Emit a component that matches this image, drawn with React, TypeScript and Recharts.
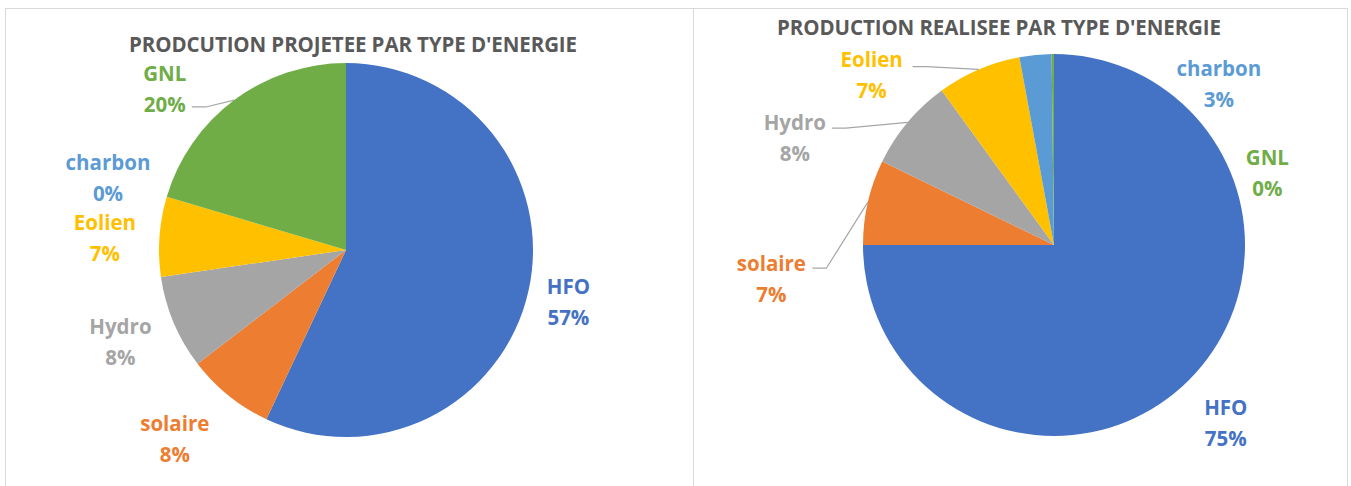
import React from 'react';
import { PieChart, Pie, Cell } from 'recharts';

// energy types, clockwise from 12 o'clock
const TYPES = ['HFO', 'solaire', 'Hydro', 'Eolien', 'charbon', 'GNL'];
const COLORS = ['#4472C4', '#ED7D31', '#A5A5A5', '#FFC000', '#5B9BD5', '#70AD47'];

// share in %
const PROJETEE = [57, 7.6, 8.1, 6.9, 0, 20.4];
const REALISEE = [75, 7.2, 7.8, 7.1, 2.7, 0.2];

const TITLE_PROJETEE = "PRODCUTION PROJETEE PAR TYPE D'ENERGIE";
const TITLE_REALISEE = "PRODUCTION REALISEE PAR TYPE D'ENERGIE";

// label placement: f = radius factor of outerRadius, a = angle (deg, ccw from east)
type LabelPos = { f: number; a: number; line?: [number, number] };
const LABELS_PROJETEE: LabelPos[] = [
    { f: 1.22, a: -12.9 },
    { f: 1.36, a: -132.3 },
    { f: 1.30, a: -158.1 },
    { f: 1.291, a: 176.9 },
    { f: 1.331, a: 163.0 },
    { f: 1.30, a: 138.2, line: [27, 19] },
];
const LABELS_REALISEE: LabelPos[] = [
    { f: 1.29, a: -45.8 },
    { f: 1.49, a: -173.3, line: [41, -10] },
    { f: 1.47, a: 157.4, line: [37, -9] },
    { f: 1.31, a: 136.8, line: [41, -7] },
    { f: 1.21, a: 44.5 },
    { f: 1.18, a: 18.8 },
];

const RAD = Math.PI / 180;
const FONT = '"Open Sans", sans-serif';
const MARGIN = { top: 0, right: 0, bottom: 0, left: 0 };

const makeLabel = (layout: LabelPos[]) => (props: any) => {
    const { cx, cy, midAngle, outerRadius, index, value } = props;
    const pos = layout[index];
    const x = cx + outerRadius * pos.f * Math.cos(pos.a * RAD);
    const y = cy - outerRadius * pos.f * Math.sin(pos.a * RAD);
    const color = COLORS[index];
    let leader = null;
    if (pos.line) {
        const sx = x + pos.line[0];
        const sy = y + pos.line[1];
        const ex = cx + outerRadius * Math.cos(-midAngle * RAD);
        const ey = cy + outerRadius * Math.sin(-midAngle * RAD);
        leader = (
            <polyline
                points={`${sx},${sy} ${sx + 14},${sy} ${ex},${ey}`}
                fill="none"
                stroke="#A6A6A6"
                strokeWidth={1.2}
            />
        );
    }
    return (
        <g key={`lbl-${index}`}>
            {leader}
            <text x={x} y={y - 15} textAnchor="middle" dominantBaseline="central"
                fill={color} fontFamily={FONT} fontWeight={700} fontSize={20.5}>
                {TYPES[index]}
            </text>
            <text x={x} y={y + 16} textAnchor="middle" dominantBaseline="central"
                fill={color} fontFamily={FONT} fontWeight={700} fontSize={20.5}>
                {`${Math.round(value)}%`}
            </text>
        </g>
    );
};

type PanelProps = {
    left: number;
    width: number;
    title: string;
    titleX: number;
    titleY: number;
    values: number[];
    labels: LabelPos[];
    cx: number;
    cy: number;
    r: number;
};

const EnergyPie: React.FC<PanelProps> = ({ left, width, title, titleX, titleY, values, labels, cx, cy, r }) => {
    const data = TYPES.map((name, i) => ({ name, value: values[i] }));
    return (
        <div style={{
            position: 'absolute', left, top: 8, width, height: 520, boxSizing: 'border-box',
            border: '1px solid #D9D9D9', background: '#fff',
        }}>
            <div style={{
                position: 'absolute', left: titleX, top: titleY, transform: 'translate(-50%, -50%)',
                whiteSpace: 'nowrap', fontFamily: FONT, fontWeight: 700, fontSize: 20.5,
                color: '#595959', letterSpacing: -0.1,
            }}>
                {title}
            </div>
            <div style={{ position: 'absolute', left: -1, top: -1 }}>
                <PieChart width={width} height={478} margin={MARGIN}>
                    <Pie
                        data={data}
                        dataKey="value"
                        nameKey="name"
                        cx={cx}
                        cy={cy}
                        outerRadius={r}
                        startAngle={90}
                        endAngle={-270}
                        stroke="none"
                        label={makeLabel(labels)}
                        labelLine={false}
                        isAnimationActive={false}
                    >
                        {data.map((entry, index) => (
                            <Cell key={`cell-${index}`} fill={COLORS[index]} />
                        ))}
                    </Pie>
                </PieChart>
            </div>
        </div>
    );
};

export default function App() {
    return (
        <div style={{ position: 'absolute', left: 0, top: 0, width: 1351, height: 486, overflow: 'hidden', background: '#fff' }}>
            <EnergyPie
                left={5} width={689}
                title={TITLE_PROJETEE} titleX={347} titleY={35}
                values={PROJETEE} labels={LABELS_PROJETEE}
                cx={341} cy={242} r={187}
            />
            <EnergyPie
                left={693} width={655}
                title={TITLE_REALISEE} titleX={305} titleY={18}
                values={REALISEE} labels={LABELS_REALISEE}
                cx={361} cy={237} r={191}
            />
        </div>
    );
}
